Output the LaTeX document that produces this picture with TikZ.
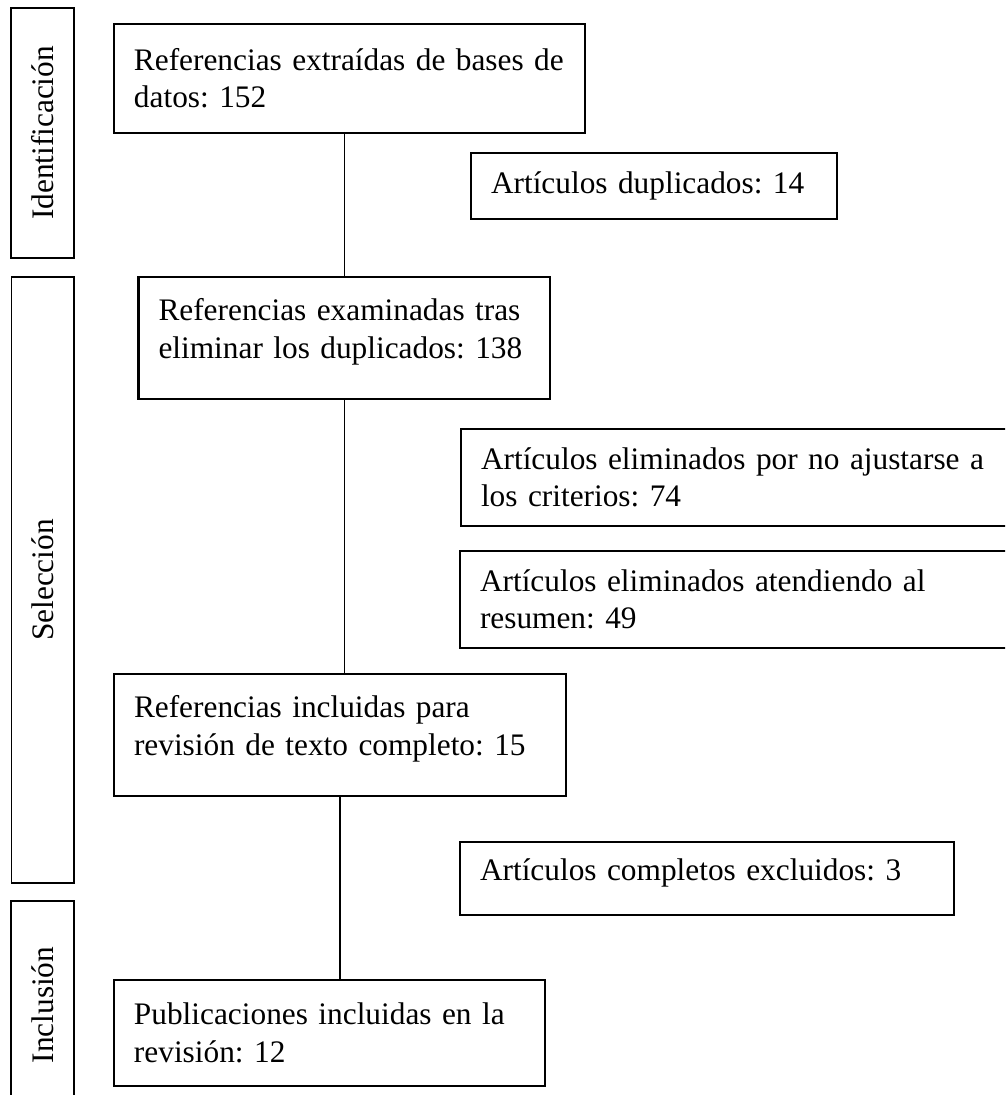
\documentclass[tikz,border=0pt]{standalone}
\usepackage{fontspec}
\setmainfont{Liberation Serif}
\frenchspacing
\tikzset{
  box/.style={draw, rectangle, line width=0.8pt, align=left, inner xsep=7.5pt, inner ysep=0pt, font=\fontsize{11.75}{14}\selectfont},
  phase/.style={draw, rectangle, line width=0.6pt, rotate=90, inner sep=0pt, font=\fontsize{11.75}{14}\selectfont},
  link/.style={line width=0.5pt}
}
\begin{document}
\begin{tikzpicture}[x=0.375pt, y=-0.375pt]
            \useasboundingbox (0,0) rectangle (1005,1095);
            \clip (0,0) rectangle (1005,1095);
            % phases
            \node[phase, minimum width=93.75pt, minimum height=23.63pt] (Id) at (42.5,133) {Identificación};
            \node[phase, minimum width=227.25pt, minimum height=23.44pt] (Sel) at (42.75,580) {Selección};
            \node[phase, minimum width=78pt, minimum height=23.63pt] (Inc) at (42.5,1005) {Inclusión};

            % main column
            \node[box, text width=161.63pt, minimum height=40.88pt] (Ext) at (349.5,78.5) {Referencias extraídas de bases de\\datos: 152};
            \node[box, text width=139.31pt, minimum height=45.75pt] (Exam) at (344.25,338) {Referencias examinadas tras\\eliminar los duplicados: 138\\[-6.9pt]\mbox{}};
            \node[box, text width=154.5pt, minimum height=45.75pt] (Comp) at (340,735) {Referencias incluidas para\\revisión de texto completo: 15\\[-6.9pt]\mbox{}};
            \node[box, text width=146.63pt, minimum height=39.75pt] (Pub) at (329.5,1033) {Publicaciones incluidas en la\\revisión: 12};

            % exclusions
            \node[box, text width=122.25pt, minimum height=24.75pt] (Dup) at (654,186) {Artículos duplicados: 14};
            \node[box, text width=190.88pt, minimum height=36.38pt] (Crit) at (735.5,477.5) {Artículos eliminados por no ajustarse a\\los criterios: 74};
            \node[box, text width=191.25pt, minimum height=36.38pt] (Res) at (735,599.5) {Artículos eliminados atendiendo al\\resumen: 49};
            \node[box, text width=170.25pt, minimum height=27.38pt] (Excl) at (707,878.5) {Artículos completos excluidos: 3\\[-7.5pt]\mbox{}};

            \draw[link] (Exam.north) -- (Exam.north |- Ext.south);
            \draw[link] (Exam.south) -- (Exam.south |- Comp.north);
            \draw[link] (Comp.south) -- (Comp.south |- Pub.north);
        \end{tikzpicture}
\end{document}
